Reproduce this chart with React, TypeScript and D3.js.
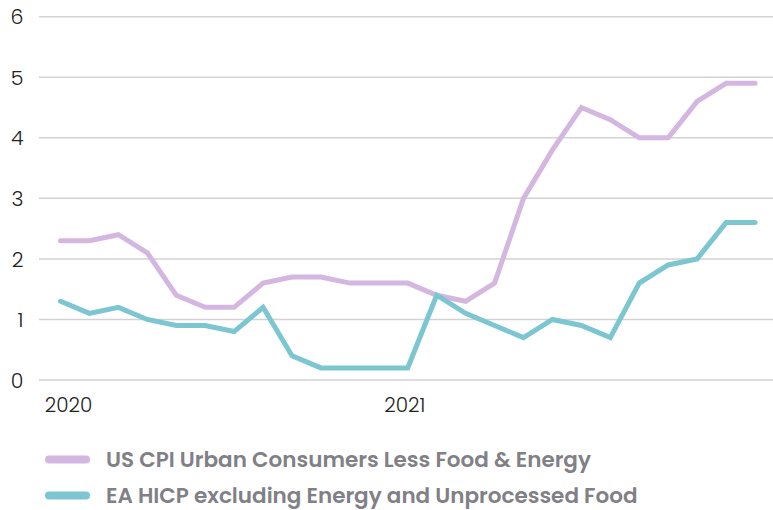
import React from "react";
import * as d3 from "d3";

const months: string[] = [
  "2020-01","2020-02","2020-03","2020-04","2020-05","2020-06","2020-07","2020-08","2020-09","2020-10","2020-11","2020-12",
  "2021-01","2021-02","2021-03","2021-04","2021-05","2021-06","2021-07","2021-08","2021-09","2021-10","2021-11","2021-12","2022-01",
];
const usCore: number[] = [2.3,2.3,2.4,2.1,1.4,1.2,1.2,1.6,1.7,1.7,1.6,1.6,1.6,1.4,1.3,1.6,3.0,3.8,4.5,4.3,4.0,4.0,4.6,4.9,4.9];
const eaCore: number[] = [1.3,1.1,1.2,1.0,0.9,0.9,0.8,1.2,0.4,0.2,0.2,0.2,0.2,1.4,1.1,0.9,0.7,1.0,0.9,0.7,1.6,1.9,2.0,2.6,2.6];
const yTicks: number[] = [0,1,2,3,4,5,6];
const xTickLabels: { index: number; label: string }[] = [
  { index: 0, label: "2020" },
  { index: 12, label: "2021" },
];
const seriesNames: string[] = [
  "US CPI Urban Consumers Less Food & Energy",
  "EA HICP excluding Energy and Unprocessed Food",
];
const colors: string[] = ["#d3b7e0", "#7cc6d1"];

const W = 773;
const H = 510;

export default function App() {
  const x = d3.scaleLinear().domain([0, months.length - 1]).range([60.5, 755]);
  const y = d3.scaleLinear().domain([0, 6]).range([380, 16.7]);
  const line = d3
    .line<number>()
    .x((_, i) => x(i))
    .y((d) => y(d));
  const series = [usCore, eaCore];
  return (
    <svg
      width={W}
      height={H}
      style={{ position: "absolute", left: 0, top: 0, display: "block", background: "#fff" }}
      fontFamily="Poppins, 'Open Sans', sans-serif"
    >
      {yTicks.map((t) => (
        <g key={t}>
          <line x1={39} x2={W} y1={y(t)} y2={y(t)} stroke="#d2d2d2" strokeWidth={1.5} />
          <text x={23.5} y={y(t) + 0.5} dy="0.35em" textAnchor="end" fontSize={20.5} fill="#222" fontWeight={300}>
            {t}
          </text>
        </g>
      ))}
      {xTickLabels.map((t) => (
        <text
          key={t.label}
          x={x(t.index) + (t.index === 0 ? 8 : -3)}
          y={404.5}
          dy="0.35em"
          textAnchor="middle"
          fontSize={20}
          fill="#222"
          fontWeight={300}
        >
          {t.label}
        </text>
      ))}
      {series.map((s, i) => (
        <path
          key={i}
          d={line(s) || ""}
          fill="none"
          stroke={colors[i]}
          strokeWidth={5}
          strokeLinecap="round"
          strokeLinejoin="miter"
        />
      ))}
      {seriesNames.map((name, i) => (
        <g key={name} transform={`translate(0, ${459.5 + i * 36})`}>
          <line x1={49} x2={86} y1={0} y2={0} stroke={colors[i]} strokeWidth={8} strokeLinecap="round" />
          <text x={106} y={0} dy="0.35em" fontSize={21.5} fontWeight={600} fill="#808086">
            {name}
          </text>
        </g>
      ))}
    </svg>
  );
}
